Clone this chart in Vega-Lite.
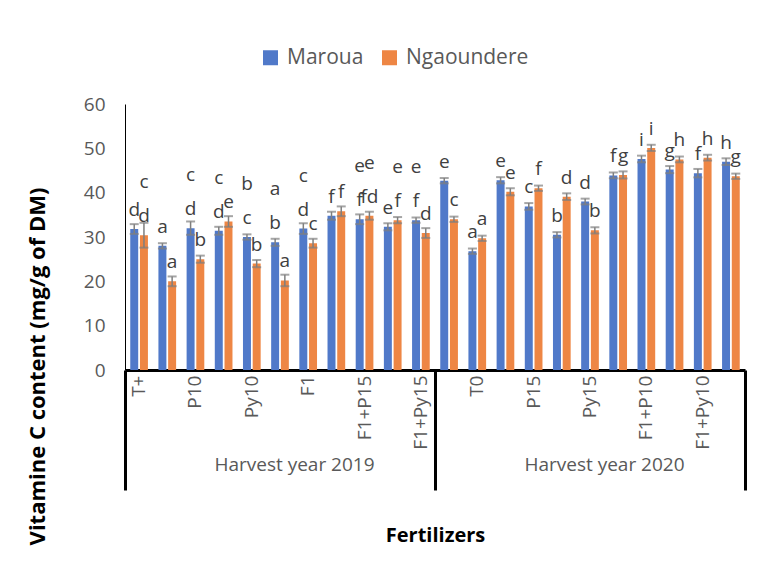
{
  "$schema": "https://vega.github.io/schema/vega-lite/v6.json",
  "width": 620,
  "height": 266,
  "autosize": {"type": "none"},
  "padding": {"left": 125, "top": 104, "right": 15, "bottom": 203},
  "background": "white",
  "config": {
    "view": {"stroke": null},
    "font": "Open Sans",
    "axis": {"labelFont": "Open Sans", "titleFont": "Open Sans", "labelColor": "#595959", "labelFontSize": 19, "titleFontSize": 20, "titleColor": "#000000", "titleFontWeight": "bold"},
    "legend": {"labelFont": "Open Sans", "labelFontSize": 21, "labelColor": "#595959"}
  },
  "data": {
    "values": [
      {"cat": "2019|T+", "year": "2019", "site": "Maroua", "value": 31.8, "err": 1.1, "l1": "d", "l2": ""},
      {"cat": "2019|T+", "year": "2019", "site": "Ngaoundere", "value": 30.4, "err": 2.8, "l1": "d", "l2": "c"},
      {"cat": "2019|T0", "year": "2019", "site": "Maroua", "value": 28.0, "err": 0.6, "l1": "a", "l2": ""},
      {"cat": "2019|T0", "year": "2019", "site": "Ngaoundere", "value": 20.0, "err": 1.1, "l1": "a", "l2": ""},
      {"cat": "2019|P10", "year": "2019", "site": "Maroua", "value": 32.0, "err": 1.5, "l1": "d", "l2": "c"},
      {"cat": "2019|P10", "year": "2019", "site": "Ngaoundere", "value": 25.0, "err": 0.8, "l1": "b", "l2": ""},
      {"cat": "2019|P15", "year": "2019", "site": "Maroua", "value": 31.4, "err": 0.9, "l1": "d", "l2": "c"},
      {"cat": "2019|P15", "year": "2019", "site": "Ngaoundere", "value": 33.5, "err": 1.2, "l1": "e", "l2": ""},
      {"cat": "2019|Py10", "year": "2019", "site": "Maroua", "value": 30.0, "err": 0.6, "l1": "c", "l2": "b"},
      {"cat": "2019|Py10", "year": "2019", "site": "Ngaoundere", "value": 24.0, "err": 0.8, "l1": "b", "l2": ""},
      {"cat": "2019|Py15", "year": "2019", "site": "Maroua", "value": 28.8, "err": 0.8, "l1": "b", "l2": "a"},
      {"cat": "2019|Py15", "year": "2019", "site": "Ngaoundere", "value": 20.2, "err": 1.3, "l1": "a", "l2": ""},
      {"cat": "2019|F1", "year": "2019", "site": "Maroua", "value": 31.9, "err": 1.2, "l1": "d", "l2": "c"},
      {"cat": "2019|F1", "year": "2019", "site": "Ngaoundere", "value": 28.6, "err": 1.0, "l1": "c", "l2": ""},
      {"cat": "2019|F1+P10", "year": "2019", "site": "Maroua", "value": 34.8, "err": 0.9, "l1": "f", "l2": ""},
      {"cat": "2019|F1+P10", "year": "2019", "site": "Ngaoundere", "value": 35.8, "err": 1.1, "l1": "f", "l2": ""},
      {"cat": "2019|F1+P15", "year": "2019", "site": "Maroua", "value": 34.0, "err": 1.1, "l1": "f", "l2": "e"},
      {"cat": "2019|F1+P15", "year": "2019", "site": "Ngaoundere", "value": 34.8, "err": 0.9, "l1": "fd", "l2": "e"},
      {"cat": "2019|F1+Py10", "year": "2019", "site": "Maroua", "value": 32.3, "err": 0.8, "l1": "e", "l2": ""},
      {"cat": "2019|F1+Py10", "year": "2019", "site": "Ngaoundere", "value": 33.8, "err": 0.7, "l1": "f", "l2": "e"},
      {"cat": "2019|F1+Py15", "year": "2019", "site": "Maroua", "value": 33.8, "err": 0.6, "l1": "f", "l2": "e"},
      {"cat": "2019|F1+Py15", "year": "2019", "site": "Ngaoundere", "value": 30.9, "err": 1.1, "l1": "d", "l2": ""},
      {"cat": "2020|T+", "year": "2020", "site": "Maroua", "value": 42.7, "err": 0.6, "l1": "e", "l2": ""},
      {"cat": "2020|T+", "year": "2020", "site": "Ngaoundere", "value": 34.0, "err": 0.6, "l1": "c", "l2": ""},
      {"cat": "2020|T0", "year": "2020", "site": "Maroua", "value": 26.8, "err": 0.6, "l1": "a", "l2": ""},
      {"cat": "2020|T0", "year": "2020", "site": "Ngaoundere", "value": 29.7, "err": 0.6, "l1": "a", "l2": ""},
      {"cat": "2020|P10", "year": "2020", "site": "Maroua", "value": 42.8, "err": 0.7, "l1": "e", "l2": ""},
      {"cat": "2020|P10", "year": "2020", "site": "Ngaoundere", "value": 40.2, "err": 0.8, "l1": "e", "l2": ""},
      {"cat": "2020|P15", "year": "2020", "site": "Maroua", "value": 36.9, "err": 0.75, "l1": "c", "l2": ""},
      {"cat": "2020|P15", "year": "2020", "site": "Ngaoundere", "value": 41.0, "err": 0.6, "l1": "f", "l2": ""},
      {"cat": "2020|Py10", "year": "2020", "site": "Maroua", "value": 30.5, "err": 0.6, "l1": "b", "l2": ""},
      {"cat": "2020|Py10", "year": "2020", "site": "Ngaoundere", "value": 39.1, "err": 0.75, "l1": "d", "l2": ""},
      {"cat": "2020|Py15", "year": "2020", "site": "Maroua", "value": 38.0, "err": 0.65, "l1": "d", "l2": ""},
      {"cat": "2020|Py15", "year": "2020", "site": "Ngaoundere", "value": 31.5, "err": 0.7, "l1": "b", "l2": ""},
      {"cat": "2020|F1", "year": "2020", "site": "Maroua", "value": 43.9, "err": 0.65, "l1": "f", "l2": ""},
      {"cat": "2020|F1", "year": "2020", "site": "Ngaoundere", "value": 44.0, "err": 0.8, "l1": "g", "l2": ""},
      {"cat": "2020|F1+P10", "year": "2020", "site": "Maroua", "value": 47.6, "err": 0.75, "l1": "i", "l2": ""},
      {"cat": "2020|F1+P10", "year": "2020", "site": "Ngaoundere", "value": 50.1, "err": 0.7, "l1": "i", "l2": ""},
      {"cat": "2020|F1+P15", "year": "2020", "site": "Maroua", "value": 45.2, "err": 0.8, "l1": "g", "l2": ""},
      {"cat": "2020|F1+P15", "year": "2020", "site": "Ngaoundere", "value": 47.5, "err": 0.65, "l1": "h", "l2": ""},
      {"cat": "2020|F1+Py10", "year": "2020", "site": "Maroua", "value": 44.4, "err": 0.95, "l1": "f", "l2": ""},
      {"cat": "2020|F1+Py10", "year": "2020", "site": "Ngaoundere", "value": 47.9, "err": 0.65, "l1": "h", "l2": ""},
      {"cat": "2020|F1+Py15", "year": "2020", "site": "Maroua", "value": 47.0, "err": 0.75, "l1": "h", "l2": ""},
      {"cat": "2020|F1+Py15", "year": "2020", "site": "Ngaoundere", "value": 43.7, "err": 0.6, "l1": "g", "l2": ""}
    ]
  },
  "layer": [
    {
      "encoding": {
        "x": {
          "field": "cat", "type": "nominal", "sort": null, "title": null,
          "scale": {"paddingInner": 0, "paddingOuter": 0},
          "axis": {
            "values": ["2019|T+", "2019|P10", "2019|Py10", "2019|F1", "2019|F1+P15", "2019|F1+Py15", "2020|T0", "2020|P15", "2020|Py15", "2020|F1+P10", "2020|F1+Py10"],
            "labelExpr": "split(datum.label, '|')[1]",
            "labelAngle": -90, "ticks": false, "domain": false, "labelPadding": 5, "orient": "bottom"
          }
        },
        "xOffset": {"field": "site", "type": "nominal", "scale": {"paddingInner": 0.18, "paddingOuter": 0.54}},
        "y": {
          "field": "value", "type": "quantitative",
          "scale": {"domain": [0, 60], "nice": false},
          "axis": {
            "values": [0, 10, 20, 30, 40, 50, 60], "ticks": false, "grid": false,
            "domainColor": "#000000", "domainWidth": 1, "labelPadding": 20,
            "title": "Vitamine C  content (mg/g of DM)", "titleFontSize": 22, "titlePadding": 34, "titleY": 262
          }
        }
      },
      "layer": [
        {
          "mark": {"type": "bar"},
          "encoding": {
            "color": {
              "field": "site", "type": "nominal",
              "scale": {"domain": ["Maroua", "Ngaoundere"], "range": ["#5079c9", "#ee8644"]},
              "legend": {
                "orient": "none", "legendX": 135, "legendY": -57, "direction": "horizontal",
                "title": null, "symbolType": "square", "symbolSize": 225, "symbolStrokeWidth": 0,
                "columnPadding": 15, "labelOffset": 6
              }
            }
          }
        },
        {
          "mark": {"type": "errorbar", "color": "#7f7f7f", "ticks": {"size": 9, "thickness": 2, "color": "#7f7f7f"}, "rule": {"strokeWidth": 1.5, "color": "#7f7f7f"}},
          "encoding": {"yError": {"field": "err"}}
        },
        {
          "mark": {"type": "text", "dy": -19, "baseline": "middle", "font": "Open Sans", "fontSize": 19, "color": "#404040"},
          "encoding": {"text": {"field": "l1"}}
        },
        {
          "mark": {"type": "text", "dy": -53, "baseline": "middle", "font": "Open Sans", "fontSize": 19, "color": "#404040"},
          "encoding": {"text": {"field": "l2"}}
        }
      ]
    },
    {
      "mark": {"type": "rule", "opacity": 0},
      "encoding": {
        "x": {
          "field": "year", "type": "nominal", "title": "Fertilizers",
          "scale": {"paddingInner": 0, "paddingOuter": 0},
          "axis": {
            "orient": "bottom", "tickBand": "extent", "tickSize": 120, "tickWidth": 3, "tickColor": "#000000",
            "domainColor": "#000000", "domainWidth": 3,
            "labelExpr": "datum.label ? 'Harvest year ' + datum.label : ''", "labelPadding": -35, "labelOffset": 14, "labelAngle": 0,
            "titlePadding": 34
          }
        }
      }
    }
  ],
  "resolve": {"scale": {"x": "independent"}}
}
